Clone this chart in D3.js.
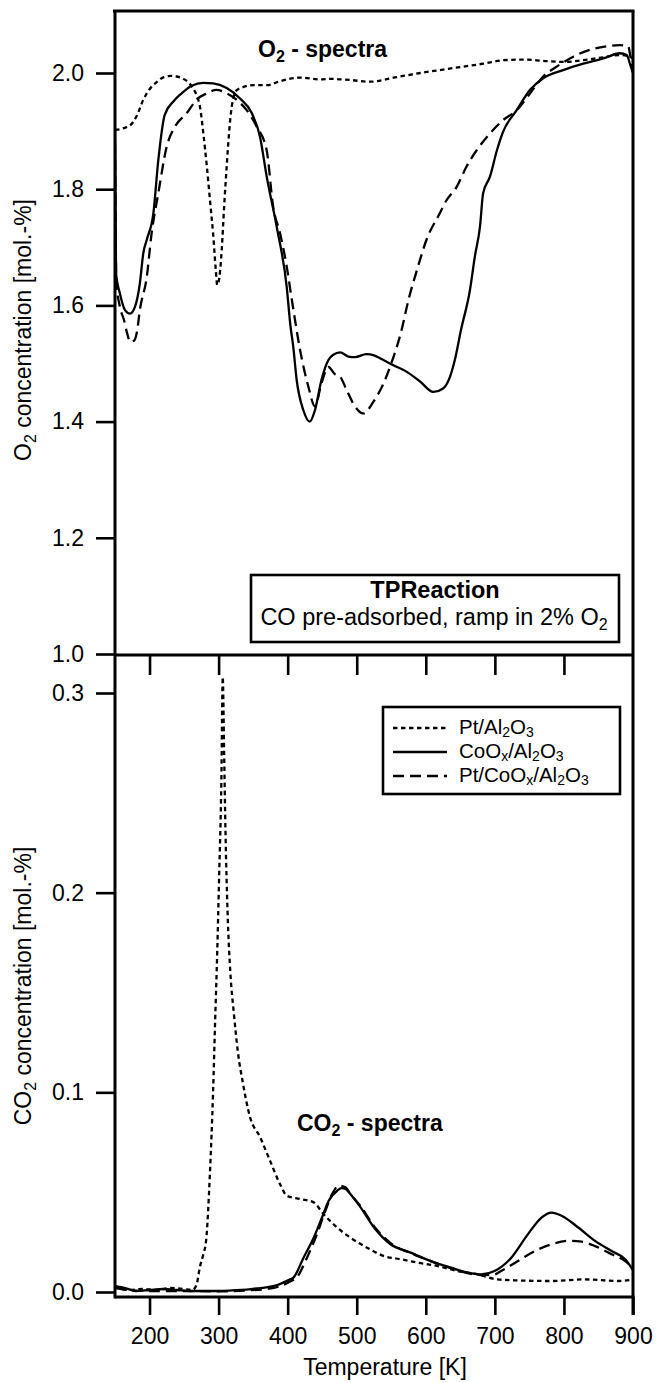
<!DOCTYPE html>
<html><head><meta charset="utf-8">
<script src="https://cdn.jsdelivr.net/npm/d3@7"></script>
<style>
body{margin:0;background:#fff}
svg{display:block}
text{font-family:"Liberation Sans",Arial,Helvetica,sans-serif;fill:#000}
</style>
</head><body>
<svg id="c" width="656" height="1383"></svg>
<script>
// ---------- data ----------
const xTicks = [200, 300, 400, 500, 600, 700, 800, 900];
const midTicks = [200, 300, 400, 500, 600, 700, 800];
const o2Ticks = [1.0, 1.2, 1.4, 1.6, 1.8, 2.0];
const co2Ticks = [0.0, 0.1, 0.2, 0.3];

// O2 spectra [T (K), O2 mol.-%]
const o2Pt = [[150,1.902],[165,1.906],[172,1.910],[181,1.925],[191,1.954],[200,1.972],[210,1.984],[221,1.993],[232,1.995],[247,1.991],[261,1.977],[268,1.962],[273,1.942],[278,1.895],[283,1.839],[288,1.775],[292,1.724],[296,1.66],[298,1.635],[300,1.64],[304.5,1.695],[308,1.77],[311.7,1.839],[315,1.895],[319,1.942],[326,1.970],[336,1.976],[350,1.979],[370,1.979],[389,1.986],[418,1.992],[447,1.989],[461,1.990],[490,1.988],[519,1.985],[558,1.993],[592,2.000],[620,2.005],[654,2.011],[683,2.016],[712,2.022],[741,2.023],[770,2.021],[799,2.019],[828,2.022],[857,2.027],[881,2.031],[893,2.029],[900,2.025]];
const o2Co = [[150,1.90],[151.5,1.655],[157,1.621],[164.5,1.592],[171.7,1.586],[179,1.598],[186,1.638],[191,1.690],[196,1.713],[205.6,1.759],[212.7,1.850],[222,1.928],[234.5,1.951],[246.6,1.965],[261,1.978],[278,1.983],[292,1.982],[311.7,1.974],[331,1.956],[348,1.931],[360,1.890],[369.6,1.822],[384,1.736],[398.6,1.632],[404,1.565],[408,1.53],[413,1.472],[422.6,1.42],[432,1.40],[439.6,1.42],[449,1.472],[459,1.506],[466,1.515],[476,1.519],[488,1.512],[497.5,1.511],[514,1.516],[525,1.514],[533.7,1.509],[553,1.497],[572,1.486],[591.6,1.469],[611,1.451],[625,1.457],[635,1.477],[642,1.506],[651,1.558],[664,1.627],[671,1.684],[678.5,1.736],[683,1.793],[693,1.822],[703,1.867],[712,1.899],[731.6,1.936],[751,1.971],[770,1.991],[799,2.005],[828,2.016],[857,2.025],[881,2.034],[891,2.031],[896,2.014],[900,2.00]];
const o2PtCo = [[150,1.88],[152,1.64],[157,1.598],[163,1.575],[168,1.55],[172,1.537],[178,1.540],[182,1.556],[186,1.592],[196,1.649],[203,1.724],[212.7,1.793],[224.8,1.873],[237,1.908],[254,1.931],[268,1.954],[283,1.965],[297,1.971],[311.7,1.965],[326,1.954],[340.7,1.936],[355,1.908],[369.6,1.867],[379,1.770],[389,1.724],[398.6,1.667],[406,1.61],[418,1.523],[430,1.46],[439.6,1.426],[449,1.466],[459,1.494],[468,1.482],[476,1.477],[485.5,1.454],[497.5,1.426],[509.5,1.414],[524,1.434],[538.5,1.465],[550,1.50],[565,1.558],[575,1.61],[587,1.660],[601,1.713],[620.5,1.759],[630,1.781],[644.7,1.804],[659,1.839],[673.6,1.867],[693,1.896],[712,1.919],[731.6,1.936],[751,1.965],[770,1.994],[789.5,2.011],[813.5,2.028],[837.7,2.040],[861.9,2.046],[881,2.048],[893,2.046],[898,2.017],[900,2.01]];

// CO2 spectra [T (K), CO2 mol.-%]
const co2Pt = [[150,0.003],[170,0.001],[190,0.0015],[210,0.001],[230,0.002],[250,0.0015],[262,0.001],[268,0.0035],[273,0.0127],[278,0.019],[282,0.026],[287.5,0.06],[292,0.10],[295,0.136],[298,0.17],[300.6,0.206],[304,0.256],[306,0.308],[308,0.27],[310,0.23],[313,0.19],[317,0.16],[322,0.14],[328,0.12],[335,0.105],[345.5,0.0876],[360,0.0776],[374.4,0.0658],[389,0.054],[398.8,0.0482],[418,0.0466],[437.7,0.0449],[452,0.039],[471.5,0.0323],[491,0.0272],[515,0.0222],[539.5,0.018],[563.7,0.0164],[588,0.0147],[617,0.013],[646,0.0105],[675,0.0088],[704,0.0063],[733,0.0058],[782,0.0055],[830,0.0063],[879,0.0055],[900,0.0063]];
const co2Co = [[150,0.003],[165,0.002],[180,0.0005],[200,0.001],[220,0.0015],[240,0.001],[260,0.0005],[280,0.0005],[300,0.0005],[320,0.0008],[340,0.0012],[355,0.0018],[371,0.0024],[385,0.0035],[401.5,0.006],[408.4,0.0072],[423,0.0172],[437.7,0.0272],[449.7,0.0373],[459.4,0.0457],[471.6,0.0507],[478,0.052],[483.7,0.0516],[491,0.049],[505.6,0.0424],[525,0.0323],[549,0.0239],[578,0.0197],[607.4,0.0155],[636.4,0.0122],[660.8,0.0097],[680,0.0088],[699.5,0.0105],[723.8,0.0172],[748,0.029],[767.5,0.0373],[782,0.0398],[796.6,0.0382],[820.8,0.0323],[845,0.0256],[869,0.0205],[888.7,0.0164],[900,0.011]];
const co2PtCo = [[150,0.002],[170,0.001],[200,0.0005],[250,0.0005],[300,0.0003],[340,0.0008],[370,0.0015],[390,0.003],[405,0.0055],[413,0.0072],[428,0.0172],[442.4,0.029],[454.6,0.0407],[464.3,0.049],[474,0.0533],[483.7,0.0524],[491,0.049],[505.6,0.043],[525,0.033],[549,0.0245],[578,0.0195],[607,0.0155],[636,0.012],[660,0.0095],[680,0.0085],[699.5,0.0088],[709,0.0105],[733.4,0.0155],[757.8,0.0205],[782,0.0239],[806,0.0256],[825.6,0.0252],[845,0.023],[869,0.0189],[888.7,0.0155],[900,0.012]];

const legendLabels = [
  [["Pt/Al"],["2","s"],["O"],["3","s"]],
  [["CoO"],["x","s"],["/Al"],["2","s"],["O"],["3","s"]],
  [["Pt/CoO"],["x","s"],["/Al"],["2","s"],["O"],["3","s"]]
];
const dashes = ["4.5,3.5", null, "11,6"];

// ---------- layout ----------
const L = 115, R = 633, TOP = 11, MID = 655, BOT = 1297;
const FS = 23;
const svg = d3.select("#c");
const x = d3.scaleLinear().domain([150, 900]).range([L, R]);
const yTop = d3.scaleLinear().domain([1.0, 2.0]).range([654, 73]);
const yBot = d3.scaleLinear().domain([0, 0.3]).range([1292, 693]);

function rich(t, parts, sub, drop) {
  let shift = 0;
  parts.forEach(p => {
    const s = t.append("tspan").text(p[0]);
    const target = p[1] === "s" ? drop : 0;
    if (p[1] === "s") s.attr("font-size", sub);
    if (target - shift !== 0) s.attr("dy", target - shift);
    shift = target;
  });
}

const defs = svg.append("defs");
defs.append("clipPath").attr("id", "cTop").append("rect").attr("x", L).attr("y", TOP).attr("width", R - L).attr("height", MID - TOP);
defs.append("clipPath").attr("id", "cBot").append("rect").attr("x", L).attr("y", MID).attr("width", R - L).attr("height", BOT - MID);

// curves
const lineTop = d3.line().x(d => x(d[0])).y(d => yTop(d[1])).curve(d3.curveMonotoneX);
const lineBot = d3.line().x(d => x(d[0])).y(d => yBot(d[1])).curve(d3.curveMonotoneX);
const gTop = svg.append("g").attr("clip-path", "url(#cTop)");
[o2Pt, o2Co, o2PtCo].forEach((s, i) => {
  gTop.append("path").attr("d", lineTop(s)).attr("fill", "none").attr("stroke", "#000")
    .attr("stroke-width", 2.3).attr("stroke-dasharray", dashes[i]).attr("stroke-linejoin", "round");
});
const gBot = svg.append("g").attr("clip-path", "url(#cBot)");
[co2Pt, co2Co, co2PtCo].forEach((s, i) => {
  gBot.append("path").attr("d", lineBot(s)).attr("fill", "none").attr("stroke", "#000")
    .attr("stroke-width", 2.3).attr("stroke-dasharray", dashes[i]).attr("stroke-linejoin", "round");
});

// axes
function styleAxis(g) {
  g.select(".domain").remove();
  g.selectAll(".tick line").attr("stroke", "#000").attr("stroke-width", 2.6);
  g.selectAll(".tick text").attr("font-size", FS).attr("font-family", "Liberation Sans, Arial, sans-serif").attr("fill", "#000");
}
svg.append("g").attr("transform", `translate(${L},0)`)
  .call(d3.axisLeft(yTop).tickValues(o2Ticks).tickFormat(d3.format(".1f")).tickSize(19).tickPadding(12)).call(styleAxis);
svg.append("g").attr("transform", `translate(${L},0)`)
  .call(d3.axisLeft(yBot).tickValues(co2Ticks).tickFormat(d3.format(".1f")).tickSize(19).tickPadding(12)).call(styleAxis);
svg.append("g").attr("transform", `translate(0,${BOT})`)
  .call(d3.axisBottom(x).tickValues(xTicks).tickFormat(d3.format("d")).tickSize(18).tickPadding(13)).call(styleAxis);
svg.append("g").attr("transform", `translate(0,${MID})`)
  .call(d3.axisBottom(x).tickValues(midTicks).tickFormat("").tickSize(20)).call(styleAxis);

// frame
const fr = svg.append("g").attr("stroke", "#000").attr("stroke-width", 3).attr("fill", "none");
fr.append("line").attr("x1", L - 2).attr("x2", R + 1.5).attr("y1", TOP).attr("y2", TOP);
fr.append("line").attr("x1", L).attr("x2", R).attr("y1", MID).attr("y2", MID);
fr.append("line").attr("x1", L).attr("x2", R + 1.5).attr("y1", BOT).attr("y2", BOT);
fr.append("line").attr("x1", L).attr("x2", L).attr("y1", TOP).attr("y2", BOT + 1.5);
fr.append("line").attr("x1", R).attr("x2", R).attr("y1", TOP).attr("y2", BOT + 18);

// axis titles
const t1 = svg.append("text").attr("transform", `translate(31,330) rotate(-90)`)
  .attr("text-anchor", "middle").attr("font-size", FS);
rich(t1, [["O"],["2","s"],[" concentration [mol.-%]"]], 16, 5);
const t2 = svg.append("text").attr("transform", `translate(31,986) rotate(-90)`)
  .attr("text-anchor", "middle").attr("font-size", FS);
rich(t2, [["CO"],["2","s"],[" concentration [mol.-%]"]], 16, 5);
svg.append("text").attr("x", 385).attr("y", 1375).attr("text-anchor", "middle")
  .attr("font-size", FS).text("Temperature [K]");

// in-plot labels
const s1 = svg.append("text").attr("x", 258).attr("y", 57).attr("font-size", FS).attr("font-weight", "bold");
rich(s1, [["O"],["2","s"],[" - spectra"]], 16, 5);
const s2 = svg.append("text").attr("x", 297).attr("y", 1131).attr("font-size", FS).attr("font-weight", "bold");
rich(s2, [["CO"],["2","s"],[" - spectra"]], 16, 5);

// TPReaction box
svg.append("rect").attr("x", 251).attr("y", 575).attr("width", 368).attr("height", 67)
  .attr("fill", "#fff").attr("stroke", "#000").attr("stroke-width", 2.6);
svg.append("text").attr("x", 435).attr("y", 598).attr("text-anchor", "middle").attr("font-size", 23.5)
  .attr("font-weight", "bold").text("TPReaction");
const tp = svg.append("text").attr("x", 434).attr("y", 625).attr("text-anchor", "middle").attr("font-size", 23.5);
rich(tp, [["CO pre-adsorbed, ramp in 2% O"],["2","s"]], 16, 5);

// legend
svg.append("rect").attr("x", 383).attr("y", 707).attr("width", 237).attr("height", 87)
  .attr("fill", "#fff").attr("stroke", "#000").attr("stroke-width", 2.6);
legendLabels.forEach((lab, i) => {
  const yy = 728 + i * 24;
  svg.append("line").attr("x1", 393).attr("x2", 447).attr("y1", yy).attr("y2", yy)
    .attr("stroke", "#000").attr("stroke-width", 2.3).attr("stroke-dasharray", dashes[i]);
  const t = svg.append("text").attr("x", 459).attr("y", yy + 6).attr("font-size", 20.5);
  rich(t, lab, 14, 3);
});
</script>
</body></html>
